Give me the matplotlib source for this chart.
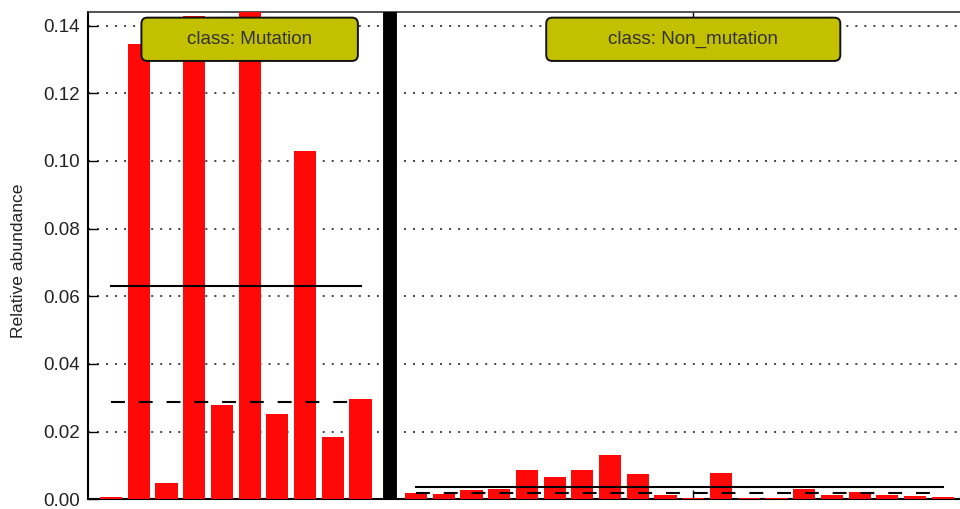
import numpy as np
import matplotlib
matplotlib.use("Agg")
import matplotlib.pyplot as plt
from matplotlib.patches import FancyBboxPatch
from matplotlib.ticker import FormatStrFormatter
from matplotlib.transforms import IdentityTransform, blended_transform_factory

plt.rcParams['font.family'] = ['Liberation Sans', 'DejaVu Sans']
plt.rcParams['lines.scale_dashes'] = False

# relative abundance per sample
class_names = ["Mutation", "Non_mutation"]
mutation = [0.0008, 0.1344, 0.0049, 0.1428, 0.0279, 0.1440, 0.0251, 0.1029, 0.0184, 0.0295]
non_mutation = [0.0018, 0.0017, 0.0028, 0.0029, 0.0088, 0.0065, 0.0088, 0.0131, 0.0074, 0.0013,
                0.0005, 0.0077, 0.0005, 0.0005, 0.0030, 0.0014, 0.0022, 0.0013, 0.0009, 0.0007]
yticks = [0.00, 0.02, 0.04, 0.06, 0.08, 0.10, 0.12, 0.14]

W, H = 960, 509
fig = plt.figure(figsize=(W / 100, H / 100), dpi=100)
ax = fig.add_axes([88 / W, 9.7 / H, 1 - 88 / W, (499.3 - 12) / H])

groups = [mutation, non_mutation]
start = 0
sep_positions = []
centers = []
for gi, vals in enumerate(groups):
    xs = np.arange(start, start + len(vals))
    # bars sit above the bottom spine so the tiny ones stay visible
    ax.bar(xs, vals, width=0.8, color='#ff0808', edgecolor='none', zorder=2.6)
    m = np.mean(vals)
    med = np.median(vals)
    ax.plot([xs[0], xs[-1]], [m, m], color='black', lw=1.5, zorder=4)
    ax.plot([xs[0], xs[-1]], [med, med], color='black', lw=1.5, dashes=(10, 10), zorder=4)
    centers.append(start + len(vals) // 2)
    start += len(vals)
    if gi < len(groups) - 1:
        sep_positions.append(start)
        start += 1

for s in sep_positions:
    ax.axvline(s + 0.05, color='black', lw=10, zorder=3)

ax.set_xlim(-0.83, 30.62)
ax.set_ylim(0, max(max(mutation), max(non_mutation)))
ax.set_yticks(yticks)
ax.yaxis.set_major_formatter(FormatStrFormatter('%.2f'))
ax.set_xticks(centers)
ax.set_xticklabels([])
ax.tick_params(axis='x', direction='in', top=True, bottom=True, length=6.5, width=1)
ax.tick_params(axis='y', direction='in', length=7, width=1, pad=6,
               labelsize=13.5, labelcolor='#222222')
ax.grid(axis='y', color='#222222', linestyle=(0, (1.4, 5.1)), linewidth=1.2)
ax.set_axisbelow(True)

ax.spines['right'].set_visible(False)
ax.spines['left'].set_linewidth(1.5)
ax.spines['bottom'].set_linewidth(1.5)
ax.spines['top'].set_linewidth(1.2)
ax.spines['top'].set_color('#333333')

ax.set_ylabel("Relative abundance", fontsize=12.6, color='#222222')
ax.yaxis.set_label_coords(-0.071, 0.49)

# class labels in rounded boxes
trans = blended_transform_factory(ax.transData, ax.transAxes)
labels = []
for c, name in zip(centers, class_names):
    t = ax.text(c, 0.944, "class: " + name, transform=trans, ha='center', va='center',
                fontsize=13.6, color='#333333', zorder=6)
    labels.append(t)

fig.canvas.draw()
renderer = fig.canvas.get_renderer()
for t in labels:
    bb = t.get_window_extent(renderer)
    cx = (bb.x0 + bb.x1) / 2
    cy = (bb.y0 + bb.y1) / 2
    bw = bb.width * 1.73
    bh = 43.3
    box = FancyBboxPatch((cx - bw / 2, cy - bh / 2), bw, bh,
                         boxstyle="round,pad=0,rounding_size=6",
                         transform=IdentityTransform(), facecolor='#c3c000',
                         edgecolor='#111111', linewidth=1.4, zorder=5, clip_on=False)
    ax.add_artist(box)

fig.savefig("out.png", dpi=100)
